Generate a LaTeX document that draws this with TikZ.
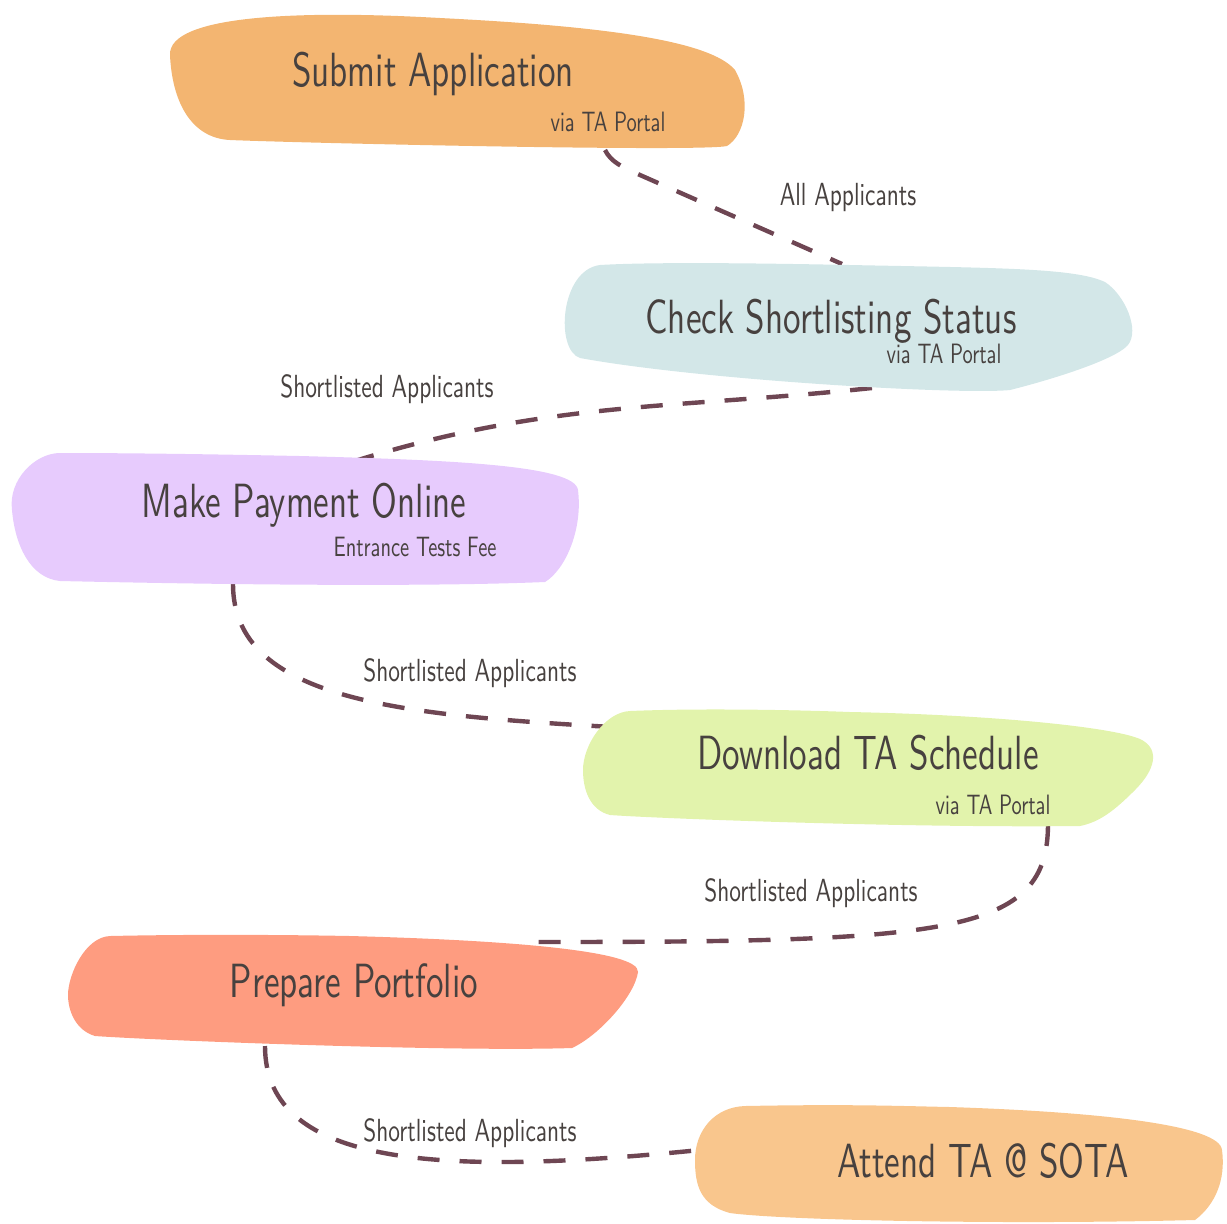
\documentclass[tikz,border=0pt]{standalone}
\usepackage{fontspec}
\usetikzlibrary{calc,positioning}
\newfontfamily\handfont[FakeStretch=0.73]{lmsans10-regular.otf}
\definecolor{submitfill}{HTML}{F3B571}
\definecolor{checkfill}{HTML}{D3E7E8}
\definecolor{payfill}{HTML}{E7CBFD}
\definecolor{loadfill}{HTML}{E2F3AC}
\definecolor{portfill}{HTML}{FE9C80}
\definecolor{attendfill}{HTML}{F9C68D}
\definecolor{inkgray}{HTML}{47413F}
\definecolor{plum}{HTML}{6E4653}
\tikzset{
x=0.5pt, y=-0.5pt, % one unit is one pixel of the sketch
title/.style={font=\handfont\fontsize{24}{28}\selectfont, text=inkgray, inner sep=0pt, anchor=base},
subtitle/.style={font=\handfont\fontsize{14}{16}\selectfont, text=inkgray, inner sep=0pt, anchor=base},
flowlabel/.style={font=\handfont\fontsize{16}{18}\selectfont, text=inkgray, inner sep=0pt, anchor=base},
flow/.style={draw=plum, line width=2.2pt, dash pattern=on 11pt off 10pt},
}

\begin{document}
\begin{tikzpicture}
   \useasboundingbox (0,0) rectangle (1227,1223);
   % where the dashed links meet the patches
   \coordinate (sa_out) at (605,150);
   \coordinate (cs_in)  at (842,264);
   \coordinate (cs_out) at (872,388);
   \coordinate (mp_in)  at (358,460);
   \coordinate (mp_out) at (233,584);
   \coordinate (dl_in)  at (612,727);
   \coordinate (dl_out) at (1048,824);
   \coordinate (pp_in)  at (535,942);
   \coordinate (pp_out) at (265,1046);
   \coordinate (at_in)  at (700,1150);
   % dashed links
   \path[flow] (sa_out) .. controls (611,162) and (622,167) .. (640,175) -- (cs_in);
   \path[flow] (cs_out) to[out=186,in=17] (mp_in);
   \path[flow] (mp_out) .. controls (233,700) and (400,715) .. (dl_in);
   \path[flow] (dl_out) .. controls (1048,935) and (950,942) .. (pp_in);
   \path[flow] (pp_out) .. controls (265,1170) and (450,1175) .. (at_in);
   % painted patches
   \fill[submitfill] (440,18) .. controls (600,26) and (710,40) .. (735,70)
      .. controls (752,100) and (745,135) .. (727,146)
      .. controls (700,152) and (300,143) .. (230,140)
      .. controls (190,138) and (172,100) .. (170,55)
      .. controls (168,15) and (300,10) .. (440,18) -- cycle;
   \fill[checkfill] (850,265) .. controls (1000,268) and (1075,268) .. (1105,282)
      .. controls (1125,295) and (1140,330) .. (1128,345)
      .. controls (1115,360) and (1050,380) .. (1010,390)
      .. controls (960,395) and (700,380) .. (580,358)
      .. controls (555,350) and (560,270) .. (600,265)
      .. controls (650,262) and (750,263) .. (850,265) -- cycle;
   \fill[payfill] (300,456) .. controls (450,460) and (575,465) .. (578,490)
      .. controls (583,530) and (565,570) .. (545,582)
      .. controls (400,588) and (150,583) .. (60,581)
      .. controls (30,578) and (15,545) .. (12,510)
      .. controls (8,480) and (35,453) .. (60,453)
      .. controls (150,453) and (250,455) .. (300,456) -- cycle;
   \fill[loadfill] (850,712) .. controls (1000,715) and (1120,728) .. (1142,740)
      .. controls (1160,750) and (1155,770) .. (1135,790)
      .. controls (1115,810) and (1100,822) .. (1080,826)
      .. controls (900,828) and (650,818) .. (610,815)
      .. controls (590,810) and (583,790) .. (583,770)
      .. controls (583,745) and (605,712) .. (630,711)
      .. controls (700,708) and (800,710) .. (850,712) -- cycle;
   \fill[portfill] (350,936) .. controls (500,940) and (640,950) .. (638,972)
      .. controls (635,995) and (600,1035) .. (572,1048)
      .. controls (450,1052) and (150,1040) .. (95,1036)
      .. controls (75,1030) and (68,1010) .. (68,995)
      .. controls (68,975) and (85,937) .. (110,936)
      .. controls (200,934) and (300,935) .. (350,936) -- cycle;
   \fill[attendfill] (950,1107) .. controls (1100,1112) and (1220,1125) .. (1222,1150)
      .. controls (1226,1180) and (1215,1205) .. (1195,1220)
      .. controls (1000,1225) and (780,1220) .. (730,1213)
      .. controls (700,1205) and (695,1185) .. (695,1160)
      .. controls (695,1130) and (715,1107) .. (745,1106)
      .. controls (850,1104) and (900,1106) .. (950,1107) -- cycle;
   % patch texts
   \node[title] (sa) at (433,86) {Submit Application};
   \node[subtitle] (sa_via) at (608,131) {via TA Portal};
   \node[title] (cs) at (831,333) {Check Shortlisting Status};
   \node[subtitle] (cs_via) at (944,363) {via TA Portal};
   \node[title] (mp) at (304,517) {Make Payment Online};
   \node[subtitle] (mp_fee) at (415,556) {Entrance Tests Fee};
   \node[title] (dl) at (868,769) {Download TA Schedule};
   \node[subtitle] (dl_via) at (993,814) {via TA Portal};
   \node[title] (pp) at (354,997) {Prepare Portfolio};
   \node[title] (at) at (983,1177) {Attend TA @ SOTA};
   % link texts
   \node[flowlabel] (l_all) at (848,205) {All Applicants};
   \node[flowlabel] (l_short1) at (387,397) {Shortlisted Applicants};
   \node[flowlabel] (l_short2) at (470,681) {Shortlisted Applicants};
   \node[flowlabel] (l_short3) at (811,901) {Shortlisted Applicants};
   \node[flowlabel] (l_short4) at (470,1141) {Shortlisted Applicants};
\end{tikzpicture}
\end{document}
